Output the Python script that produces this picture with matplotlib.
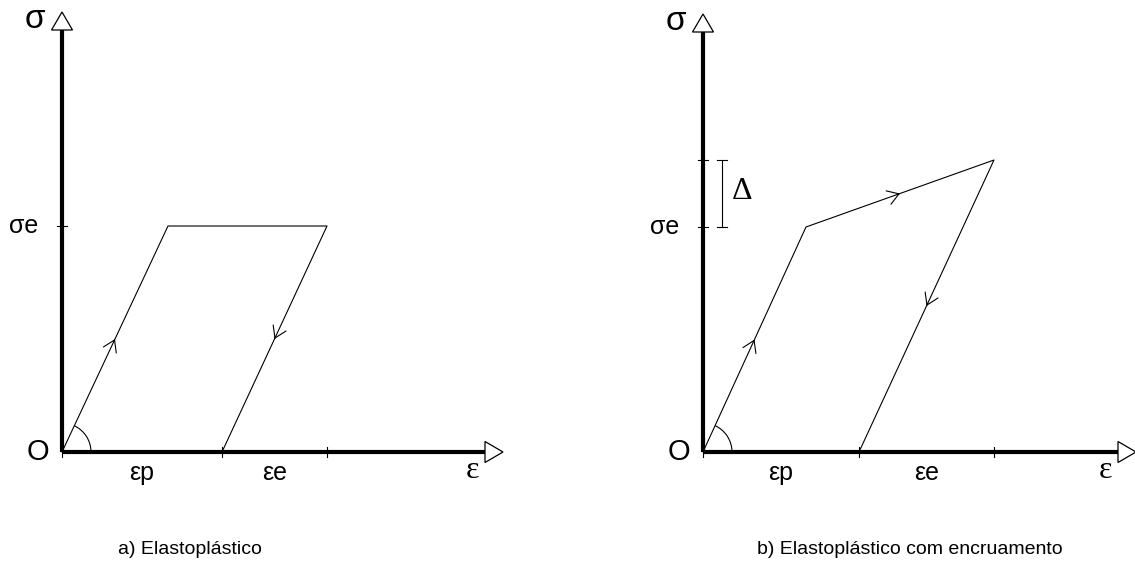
import numpy as np
import matplotlib.pyplot as plt
from matplotlib.patches import Arc, Polygon, FancyArrowPatch

# Trajetórias tensão-deformação (unidades arbitrárias do diagrama)
eps_a = [0.0, 1.06, 2.65, 1.60]
sig_a = [0.0, 2.26, 2.26, 0.0]
setas_a = [0, 2]          # trechos com seta (o patamar não tem)
ticks_x_a = [1.60, 2.65]
ticks_y_a = [2.26]

eps_b = [0.0, 1.03, 2.91, 1.56]
sig_b = [0.0, 2.25, 2.92, 0.0]
setas_b = [0, 1, 2]
ticks_x_b = [1.56, 2.91]
ticks_y_b = [2.25, 2.92]

legendas = ["a) Elastoplástico", "b) Elastoplástico com encruamento"]

SANS = "Liberation Sans"
SERIF = "Liberation Serif"


def eixo_com_seta(ax, comp_x, comp_y):
    ax.plot([0, comp_x], [0, 0], color="black", lw=3, solid_capstyle="butt", zorder=3)
    ax.plot([0, 0], [0, comp_y], color="black", lw=3, solid_capstyle="butt", zorder=3)
    # pontas triangulares abertas
    ax.add_patch(Polygon([(comp_x, -0.105), (comp_x, 0.105), (comp_x + 0.18, 0)],
                         closed=True, facecolor="white", edgecolor="black", lw=0.9, zorder=4))
    ax.add_patch(Polygon([(-0.105, comp_y), (0.105, comp_y), (0, comp_y + 0.18)],
                         closed=True, facecolor="white", edgecolor="black", lw=0.9, zorder=4))


def seta_no_meio(ax, p0, p1):
    xm = (p0[0] + p1[0]) / 2
    ym = (p0[1] + p1[1]) / 2
    dx = (p1[0] - p0[0]) * 0.01
    dy = (p1[1] - p0[1]) * 0.01
    ax.add_patch(FancyArrowPatch((xm - dx, ym - dy), (xm, ym),
                                 arrowstyle="->,head_length=0.5,head_width=0.32",
                                 mutation_scale=16, lw=0.8, color="black",
                                 shrinkA=0, shrinkB=0))


def diagrama(ax, eps, sig, setas, tx, ty, comp_x, comp_y, legenda, x_leg):
    eixo_com_seta(ax, comp_x, comp_y)
    ax.plot(eps, sig, color="black", lw=0.8)
    for i in setas:
        seta_no_meio(ax, (eps[i], sig[i]), (eps[i + 1], sig[i + 1]))

    for x in [0] + tx:
        ax.plot([x, x], [-0.05, 0.05], color="black", lw=0.8)
    for y in ty:
        ax.plot([-0.05, 0.05], [y, y], color="black", lw=0.8)

    ang = np.degrees(np.arctan2(sig[1], eps[1]))
    ax.add_patch(Arc((0, 0), 0.58, 0.58, theta1=0, theta2=ang, lw=0.8, color="black"))

    ax.text(-0.27, comp_y + 0.11, "σ", fontsize=24, family=SANS, ha="center", va="center")
    ax.text(-0.24, 0.0, "O", fontsize=21, family=SANS, ha="center", va="center")
    ax.text(-0.38, ty[0], "σe", fontsize=18, family=SANS, ha="center", va="center")
    ax.text(tx[0] / 2, -0.21, "εp", fontsize=18, family=SANS, ha="center", va="center")
    ax.text((tx[0] + tx[1]) / 2, -0.21, "εe", fontsize=18, family=SANS, ha="center", va="center")
    ax.text(comp_x - 0.13, -0.19, "ε", fontsize=23, family=SERIF, ha="center", va="center")
    ax.text(x_leg, -0.97, legenda, fontsize=14, family=SANS, ha="center", va="center")

    ax.set_aspect("equal")
    ax.axis("off")


fig = plt.figure(figsize=(11.35, 5.65), dpi=100)

ax1 = fig.add_axes([0, 0, 0.5, 1])
ax1.set_xlim(-0.62, -0.62 + 5.675)
ax1.set_ylim(-1.13, 4.52)
diagrama(ax1, eps_a, sig_a, setas_a, ticks_x_a, ticks_y_a, 4.23, 4.22, legendas[0], 1.28)

ax2 = fig.add_axes([0.5, 0, 0.5, 1])
ax2.set_xlim(-1.355, -1.355 + 5.675)
ax2.set_ylim(-1.13, 4.52)
diagrama(ax2, eps_b, sig_b, setas_b, ticks_x_b, ticks_y_b, 4.15, 4.20, legendas[1], 2.07)

# barra do incremento de tensão
xb = 0.19
ax2.plot([xb, xb], [ticks_y_b[0], ticks_y_b[1]], color="black", lw=0.8)
for y in ticks_y_b:
    ax2.plot([xb - 0.05, xb + 0.05], [y, y], color="black", lw=0.8)
ax2.text(0.39, (ticks_y_b[0] + ticks_y_b[1]) / 2 + 0.02, "Δ", fontsize=23, family=SERIF,
         ha="center", va="center")

fig.savefig("out.png", dpi=100)
plt.close(fig)
